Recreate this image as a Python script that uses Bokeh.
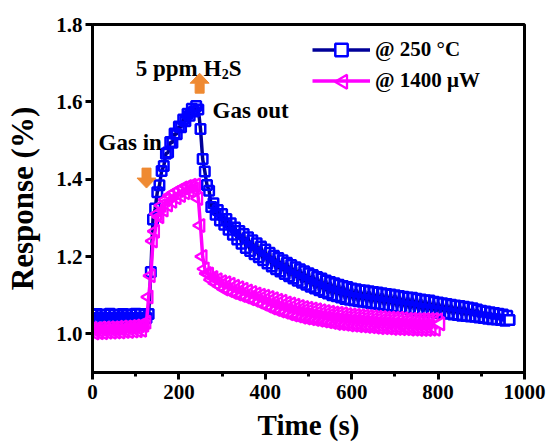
import numpy as np
from bokeh.plotting import figure
from bokeh.models import (Range1d, SingleIntervalTicker, FixedTicker, PrintfTickFormatter,
                          Legend, LegendItem, Label, PolyAnnotation)
from bokeh.embed import file_html
from bokeh.resources import INLINE

# ---------------- data ----------------
STEP = 5  # sampling step of both records, seconds
# 250 °C record: readings along upper edge of the band (t = 0, 10, 20, ...)
blue_upper = [
    1.050, 1.051, 1.049, 1.050, 1.052, 1.050, 1.049, 1.051, 1.050, 1.050,   # 0-90
    1.052, 1.051, 1.050, 1.051, 1.296, 1.366, 1.421, 1.466, 1.496, 1.518,   # 100-190
    1.536, 1.554, 1.569, 1.582, 1.589, 1.530, 1.420, 1.370, 1.338, 1.320,   # 200-290
    1.310, 1.297, 1.286, 1.275, 1.266, 1.258, 1.250, 1.242, 1.234, 1.226,   # 300-390
    1.218, 1.210, 1.202, 1.196, 1.190, 1.184, 1.178, 1.172, 1.167, 1.162,   # 400-490
    1.157, 1.152, 1.147, 1.143, 1.138, 1.134, 1.131, 1.127, 1.124, 1.121,   # 500-590
    1.117, 1.115, 1.113, 1.112, 1.110, 1.108, 1.107, 1.105, 1.103, 1.102,   # 600-690
    1.100, 1.098, 1.096, 1.094, 1.093, 1.091, 1.089, 1.087, 1.086, 1.083,   # 700-790
    1.081, 1.079, 1.077, 1.075, 1.073, 1.072, 1.070, 1.068, 1.066, 1.063,   # 800-890
    1.060, 1.058, 1.056, 1.054, 1.052, 1.050, 1.047,                        # 900-960
]
# 250 °C record: readings along lower edge of the band (t = 5, 15, 25, ...)
blue_lower = [
    1.040, 1.041, 1.039, 1.040, 1.041, 1.039, 1.040, 1.042, 1.040, 1.041,   # 5-95
    1.039, 1.040, 1.041, 1.160, 1.324, 1.384, 1.434, 1.469, 1.494, 1.516,   # 105-195
    1.534, 1.550, 1.564, 1.575, 1.580, 1.452, 1.385, 1.328, 1.308, 1.293,   # 205-295
    1.282, 1.269, 1.256, 1.244, 1.233, 1.222, 1.214, 1.206, 1.198, 1.190,   # 305-395
    1.182, 1.174, 1.167, 1.161, 1.155, 1.149, 1.143, 1.137, 1.132, 1.127,   # 405-495
    1.122, 1.117, 1.113, 1.108, 1.104, 1.100, 1.097, 1.094, 1.090, 1.088,   # 505-595
    1.086, 1.084, 1.083, 1.081, 1.079, 1.078, 1.076, 1.074, 1.073, 1.071,   # 605-695
    1.069, 1.067, 1.065, 1.064, 1.062, 1.060, 1.058, 1.057, 1.056, 1.055,   # 705-795
    1.054, 1.053, 1.052, 1.050, 1.049, 1.047, 1.046, 1.045, 1.044, 1.042,   # 805-895
    1.041, 1.039, 1.038, 1.037, 1.036, 1.034, 1.036,                        # 905-965
]
# 1400 μW record: upper edge (t = 0, 10, ...)
mag_upper = [
    1.014, 1.014, 1.015, 1.015, 1.016, 1.016, 1.017, 1.018, 1.018, 1.019,   # 0-90
    1.020, 1.021, 1.022, 1.095, 1.240, 1.310, 1.332, 1.347, 1.358, 1.365,   # 100-190
    1.371, 1.377, 1.381, 1.384, 1.385, 1.280, 1.168, 1.155, 1.146, 1.140,   # 200-290
    1.135, 1.132, 1.128, 1.123, 1.119, 1.115, 1.111, 1.107, 1.103, 1.100,   # 300-390
    1.097, 1.094, 1.091, 1.087, 1.084, 1.080, 1.077, 1.074, 1.071, 1.068,   # 400-490
    1.066, 1.064, 1.062, 1.060, 1.058, 1.056, 1.054, 1.053, 1.052, 1.050,   # 500-590
    1.049, 1.048, 1.047, 1.046, 1.045, 1.044, 1.043, 1.042, 1.041, 1.041,   # 600-690
    1.040, 1.040, 1.039, 1.038, 1.038, 1.037, 1.037, 1.037, 1.037, 1.037, 1.036,  # 700-800
]
# 1400 μW record: lower edge (t = 5, 15, ...)
mag_lower = [
    1.002, 1.003, 1.003, 1.004, 1.004, 1.005, 1.005, 1.006, 1.006, 1.007,   # 5-95
    1.008, 1.009, 1.030, 1.150, 1.265, 1.303, 1.320, 1.333, 1.343, 1.352,   # 105-195
    1.358, 1.365, 1.370, 1.375, 1.350, 1.200, 1.156, 1.140, 1.131, 1.124,   # 205-295
    1.116, 1.112, 1.107, 1.103, 1.099, 1.095, 1.091, 1.087, 1.082, 1.077,   # 305-395
    1.072, 1.067, 1.063, 1.059, 1.056, 1.052, 1.049, 1.046, 1.043, 1.041,   # 405-495
    1.039, 1.037, 1.035, 1.033, 1.031, 1.029, 1.027, 1.026, 1.025, 1.023,   # 505-595
    1.022, 1.021, 1.020, 1.019, 1.018, 1.017, 1.016, 1.016, 1.015, 1.014,   # 605-695
    1.014, 1.013, 1.013, 1.012, 1.012, 1.011, 1.011, 1.011, 1.012, 1.012, 1.026,  # 705-805
]

series_labels = ["@ 250 °C", "@ 1400 μW"]
x_ticks_interval = 200
y_ticks = [1.0, 1.2, 1.4, 1.6, 1.8]


def merge(upper, lower):
    t, v = [], []
    for i in range(max(len(upper), len(lower))):
        if i < len(upper):
            t.append(2 * STEP * i)
            v.append(upper[i])
        if i < len(lower):
            t.append(2 * STEP * i + STEP)
            v.append(lower[i])
    return t, v


bt, bv = merge(blue_upper, blue_lower)
mt, mv = merge(mag_upper, mag_lower)

# ---------------- styling ----------------
FONT = "Liberation Serif"
ORANGE = "#EF8A32"
BLUE, NAVY, MAGENTA = "#0000FF", "#000099", "#FF00FF"
W, H = 549, 443
ML, MT = 92, 24
FW, FH = 432, 349
MR, MB = W - ML - FW, H - MT - FH
X0, X1, Y0, Y1 = 0, 1000, 0.9, 1.8
PX = (X1 - X0) / FW      # data per pixel, x
PY = (Y1 - Y0) / FH      # data per pixel, y

p = figure(width=W, height=H, x_range=Range1d(X0, X1), y_range=Range1d(Y0, Y1),
           output_backend="svg", toolbar_location=None,
           min_border_left=ML, min_border_right=MR, min_border_top=MT, min_border_bottom=MB)
p.xgrid.visible = False
p.ygrid.visible = False
p.outline_line_color = "black"
p.outline_line_width = 3
p.outline_line_alpha = 1
p.background_fill_color = "white"
p.border_fill_color = "white"

SQ = dict(marker="square", size=9.5, line_color=BLUE, line_width=2.5)
TR = dict(marker="triangle", angle=np.pi / 2, size=13, line_color=MAGENTA, line_width=2.3)

bl = p.line(bt, bv, line_color=NAVY, line_width=3.5)
p.scatter(bt, bv, fill_alpha=0, **SQ)
bs_end = p.scatter(bt[-1:], bv[-1:], fill_color="white", **SQ)
ml = p.line(mt, mv, line_color=MAGENTA, line_width=3.5)
p.scatter(mt, mv, fill_alpha=0, **TR)
p.scatter(mt[-1:], mv[-1:], fill_color="white", **TR)

for ax in (p.xaxis[0], p.yaxis[0]):
    ax.axis_line_width = 3
    ax.axis_line_color = "black"
    ax.major_tick_in = 0
    ax.major_tick_out = 7
    ax.major_tick_line_width = 3
    ax.minor_tick_in = 0
    ax.minor_tick_out = 4
    ax.minor_tick_line_width = 3
    ax.major_label_text_font = FONT
    ax.major_label_text_font_style = "bold"
    ax.major_label_text_font_size = "21px"
    ax.major_label_text_color = "black"
    ax.axis_label_text_font = FONT
    ax.axis_label_text_font_style = "bold"
    ax.axis_label_text_color = "black"

p.xaxis.ticker = SingleIntervalTicker(interval=x_ticks_interval, num_minor_ticks=2)
p.xaxis.major_label_standoff = 5
p.xaxis.axis_label = "Time (s)"
p.xaxis.axis_label_text_font_size = "29px"
p.xaxis.axis_label_standoff = 7

p.yaxis.ticker = FixedTicker(ticks=y_ticks)
p.yaxis.formatter = PrintfTickFormatter(format="%.1f")
p.yaxis.minor_tick_line_color = None
p.yaxis.major_label_standoff = 3
p.yaxis.axis_label = "Response (%)"
p.yaxis.axis_label_text_font_size = "31px"
p.yaxis.axis_label_standoff = 13

# legend: Bokeh legend (line + square); the left-pointing triangle of the second
# entry is overlaid as an annotation since legend markers are never rotated.
LEG_X, LEG_Y, GW, GH = 220, 276, 58, 31
legend = Legend(items=[LegendItem(label=series_labels[0], renderers=[bl, bs_end]),
                       LegendItem(label=series_labels[1], renderers=[ml])],
                location=(LEG_X, LEG_Y), glyph_width=GW, glyph_height=GH, spacing=0,
                padding=0, margin=0, label_standoff=5, label_text_font=FONT,
                label_text_font_style="bold", label_text_font_size="21px",
                label_text_color="black",
                background_fill_alpha=0, border_line_alpha=0)
p.add_layout(legend)

# centre of the second legend glyph, in data units
cx = X0 + (LEG_X + GW / 2) * PX
cy = Y0 + (LEG_Y + GH / 2) * PY
p.add_layout(PolyAnnotation(xs=[cx - 6.5 * PX, cx + 5.5 * PX, cx + 5.5 * PX],
                            ys=[cy, cy + 7 * PY, cy - 7 * PY],
                            fill_color="white", fill_alpha=1,
                            line_color=MAGENTA, line_alpha=1, line_width=2.3))


def txt(x, y, s, size="23px"):
    p.add_layout(Label(x=x, y=y, text=s, text_font=FONT, text_font_style="bold",
                       text_font_size=size, text_color="black", text_baseline="alphabetic",
                       text_align="left"))


txt(14, 1.496, "Gas in")
txt(278, 1.578, "Gas out")
txt(100, 1.686, "5 ppm H")
txt(100 + 86 * PX, 1.686 - 5 * PY, "2", size="14px")
txt(100 + 93 * PX, 1.686, "S")


def arrow(tx, ty, d):
    """Block arrow with tip at (tx, ty); d=+1 points up, -1 points down."""
    hw, hl, sw, sl = 9.5, 10, 4.5, 10
    xs = [tx, tx + hw * PX, tx + sw * PX, tx + sw * PX, tx - sw * PX, tx - sw * PX, tx - hw * PX]
    ys = [ty, ty - d * hl * PY, ty - d * hl * PY, ty - d * (hl + sl) * PY,
          ty - d * (hl + sl) * PY, ty - d * hl * PY, ty - d * hl * PY]
    p.add_layout(PolyAnnotation(xs=xs, ys=ys, fill_color=ORANGE, fill_alpha=1,
                                line_color=ORANGE, line_alpha=1, line_width=1))


arrow(125, 1.377, -1)
arrow(248, 1.674, +1)

open("out.html", "w").write(file_html(p, INLINE))
